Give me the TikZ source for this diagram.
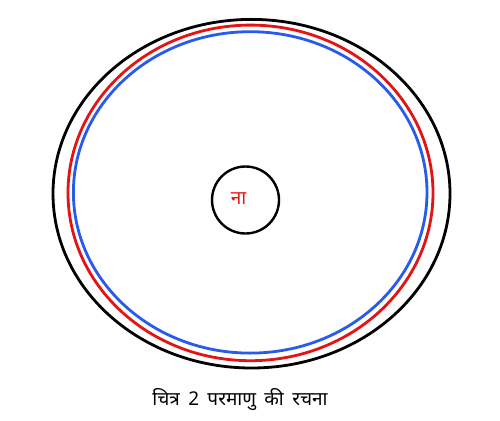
\documentclass[tikz,border=0pt]{standalone}
\usepackage{fontspec}
\newfontfamily\devfont[Script=Devanagari]{Noto Sans}
\newfontfamily\devcap[Script=Devanagari,WordSpace=1.3]{Noto Sans}
\definecolor{orbred}{RGB}{228,20,20}
\definecolor{orbblue}{RGB}{40,90,235}
\begin{document}
\begin{tikzpicture}[x=1pt,y=-1pt,
  orbit/.style={line width=2.8pt},
  nucleus/.style={circle,draw=black,line width=2.4pt,minimum size=67pt,inner sep=0pt},
  lbl/.style={font=\devfont\fontsize{19}{22}\selectfont}]
\useasboundingbox (0,0) rectangle (500,420);
\draw[orbit,black] (251.5,193.7) ellipse [x radius=198.5, y radius=174.3];
\draw[orbit,orbred] (250.5,192.9) ellipse [x radius=182.5, y radius=167.8];
\draw[orbit,orbblue] (250.2,192.4) ellipse [x radius=176.8, y radius=160.7];
\node[nucleus] (n) at (245.5,200) {};
\node[lbl,text=orbred] (na) at (238.5,199) {ना};
\node[font=\devcap\fontsize{19}{22}\selectfont] (cap) at (240,400) {चित्र 2 परमाणु की रचना};
\end{tikzpicture}
\end{document}
